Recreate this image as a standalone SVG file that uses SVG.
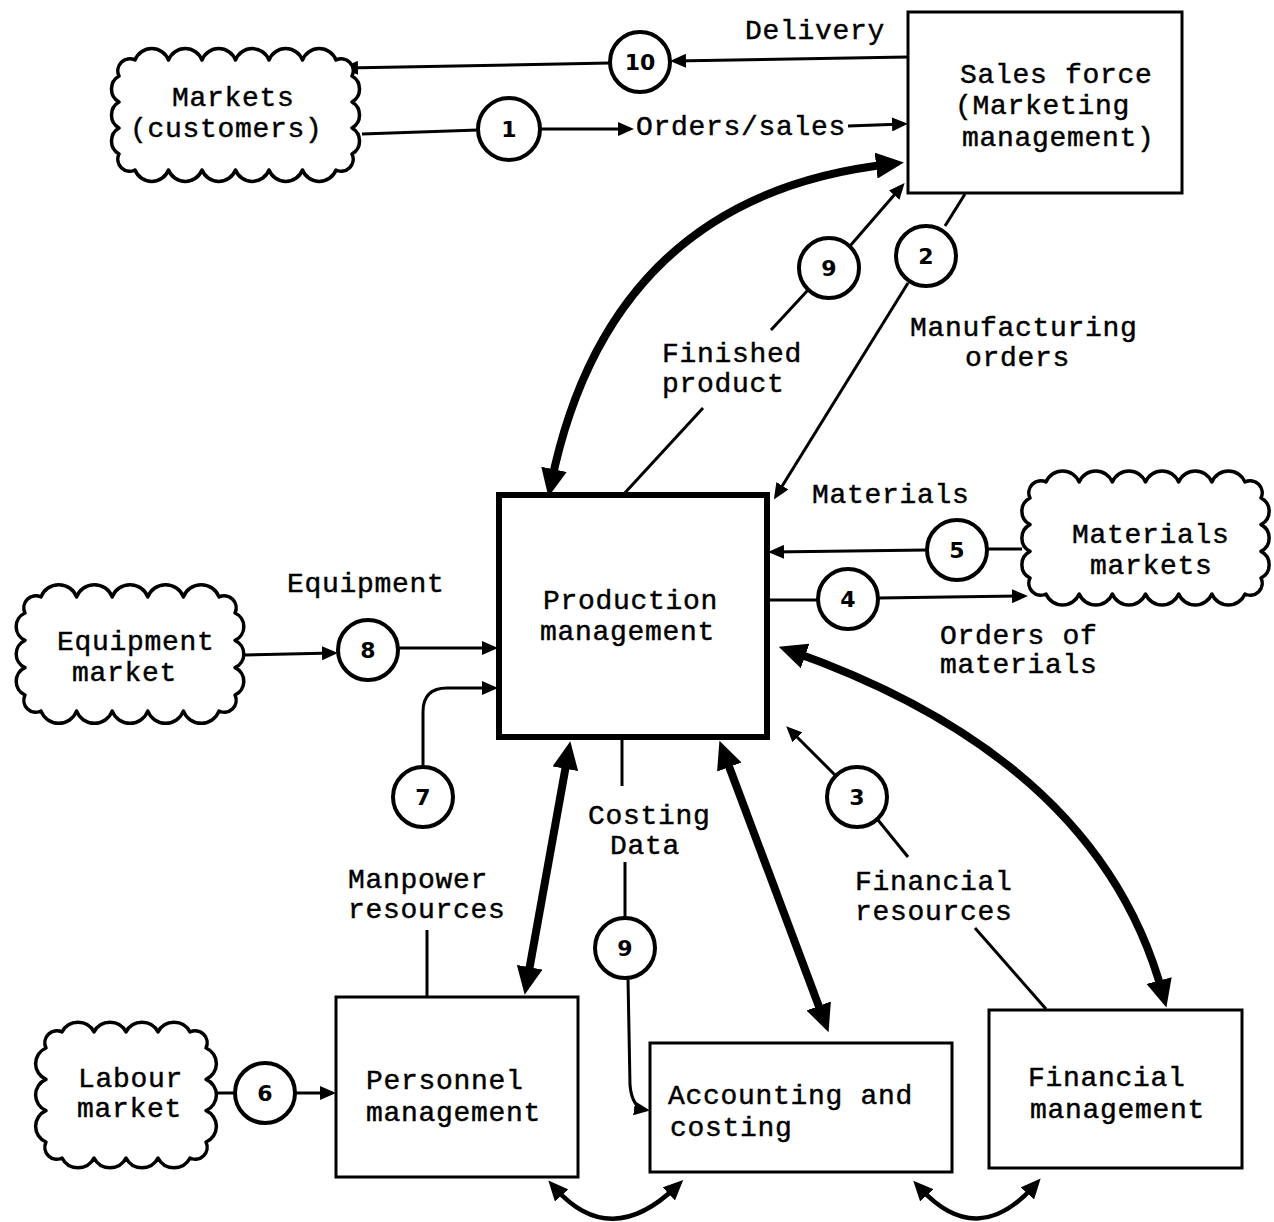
<svg xmlns="http://www.w3.org/2000/svg" width="1274" height="1222" viewBox="0 0 1274 1222">
<style>
.t{font-family:"Liberation Mono","Courier New",monospace;font-size:28px;letter-spacing:0.7px;fill:#000;stroke:#000;stroke-width:0.45}
.n{font-family:"DejaVu Sans","Liberation Sans",sans-serif;font-weight:bold;font-size:22px;text-anchor:middle;fill:#000}
.ln{fill:none;stroke:#000;stroke-width:3}
.th{fill:none;stroke:#000;stroke-width:8}
.md{fill:none;stroke:#000;stroke-width:4.5}
.c{fill:#fff;stroke:#000;stroke-width:4}
.box{fill:none;stroke:#000;stroke-width:3}
.cloud{fill:#fff;stroke:#000;stroke-width:3.5;stroke-linejoin:round}
</style>
<defs>
<marker id="a" markerUnits="userSpaceOnUse" markerWidth="16" markerHeight="14" refX="12" refY="7" orient="auto-start-reverse"><path d="M0,0 L16,7 L0,14 Z" fill="#000"/></marker>
<marker id="big" markerUnits="userSpaceOnUse" markerWidth="28" markerHeight="26" refX="15" refY="13" orient="auto-start-reverse"><path d="M0,0 L28,13 L0,26 Z" fill="#000"/></marker>
<marker id="mid" markerUnits="userSpaceOnUse" markerWidth="20" markerHeight="18" refX="10" refY="9" orient="auto-start-reverse"><path d="M0,0 L20,9 L0,18 Z" fill="#000"/></marker>
</defs>

<g id="connectors">
<!-- 10 delivery -->
<line class="ln" x1="908" y1="57" x2="674" y2="61" marker-end="url(#a)"/>
<line class="ln" x1="610" y1="63" x2="346" y2="68" marker-end="url(#a)"/>
<!-- 1 orders -->
<line class="ln" x1="362" y1="134" x2="478" y2="130"/>
<line class="ln" x1="540" y1="129" x2="630" y2="129" marker-end="url(#a)"/>
<line class="ln" x1="848" y1="126" x2="904" y2="124" marker-end="url(#a)"/>
<!-- thick curve sales-production -->
<path class="th" d="M891,164 Q610,195 551,484" marker-start="url(#big)" marker-end="url(#big)"/>
<!-- 9 finished product -->
<line class="ln" x1="850" y1="246" x2="902" y2="186" marker-end="url(#a)"/>
<line class="ln" x1="808" y1="290" x2="771" y2="330"/>
<line class="ln" x1="703" y1="408" x2="622" y2="496"/>
<!-- 2 manufacturing orders -->
<line class="ln" x1="965" y1="194" x2="945" y2="226"/>
<line class="ln" x1="908" y1="283" x2="776" y2="496" marker-end="url(#a)"/>
<!-- 5 materials -->
<line class="ln" x1="1022" y1="549" x2="986" y2="549"/>
<line class="ln" x1="927" y1="550" x2="772" y2="552" marker-end="url(#a)"/>
<!-- 4 orders of materials -->
<line class="ln" x1="768" y1="600" x2="818" y2="600"/>
<line class="ln" x1="878" y1="598" x2="1024" y2="596" marker-end="url(#a)"/>
<!-- thick curve production-financial -->
<path class="th" d="M791,651 Q1100,760 1163,995" marker-start="url(#big)" marker-end="url(#big)"/>
<!-- 3 financial resources -->
<line class="ln" x1="836" y1="776" x2="789" y2="729" marker-end="url(#a)"/>
<line class="ln" x1="878" y1="820" x2="908" y2="857"/>
<line class="ln" x1="975" y1="928" x2="1046" y2="1009"/>
<!-- 8 equipment -->
<line class="ln" x1="245" y1="655" x2="334" y2="653" marker-end="url(#a)"/>
<line class="ln" x1="398" y1="648" x2="494" y2="648" marker-end="url(#a)"/>
<!-- 7 manpower -->
<path class="ln" d="M423,767 L423,712 Q423,688 447,688 L494,688" marker-end="url(#a)"/>
<line class="ln" x1="427" y1="930" x2="427" y2="996"/>
<!-- thick straight production-personnel -->
<line class="th" x1="568" y1="754" x2="527" y2="982" marker-start="url(#big)" marker-end="url(#big)"/>
<!-- 9 costing data -->
<line class="ln" x1="622" y1="740" x2="622" y2="786"/>
<line class="ln" x1="625" y1="862" x2="625" y2="918"/>
<path class="ln" d="M628,978 L630,1085 Q632,1108 646,1110" marker-end="url(#a)"/>
<!-- thick straight production-accounting -->
<line class="th" x1="724" y1="753" x2="824" y2="1020" marker-start="url(#big)" marker-end="url(#big)"/>
<!-- 6 labour -->
<line class="ln" x1="213" y1="1093" x2="235" y2="1093"/>
<line class="ln" x1="295" y1="1093" x2="332" y2="1093" marker-end="url(#a)"/>
<!-- bottom arcs -->
<path class="md" d="M555,1188 Q610,1250 676,1187" marker-start="url(#mid)" marker-end="url(#mid)"/>
<path class="md" d="M920,1188 Q977,1250 1034,1186" marker-start="url(#mid)" marker-end="url(#mid)"/>
</g>

<g id="labels">
<text class="t" x="745" y="39">Delivery</text>
<text class="t" x="636" y="135">Orders/sales</text>
<text class="t" x="662" y="362">Finished</text>
<text class="t" x="662" y="392">product</text>
<text class="t" x="910" y="336">Manufacturing</text>
<text class="t" x="965" y="366">orders</text>
<text class="t" x="812" y="503">Materials</text>
<text class="t" x="287" y="592">Equipment</text>
<text class="t" x="940" y="644">Orders of</text>
<text class="t" x="940" y="673">materials</text>
<text class="t" x="588" y="824">Costing</text>
<text class="t" x="610" y="854">Data</text>
<text class="t" x="348" y="888">Manpower</text>
<text class="t" x="348" y="918">resources</text>
<text class="t" x="855" y="890">Financial</text>
<text class="t" x="855" y="920">resources</text>
</g>

<g id="markets">
<path class="cloud" d="M135,60 a18,18 0 0 1 33.5,0 a18,18 0 0 1 33.5,0 a18,18 0 0 1 33.5,0 a18,18 0 0 1 33.5,0 a18,18 0 0 1 33.5,0 a18,18 0 0 1 33.5,0 a12,12 0 0 1 16,16 a15,15 0 0 1 0,26 a15,15 0 0 1 0,26 a15,15 0 0 1 0,26 a12,12 0 0 1 -16,16 a18,18 0 0 1 -33.5,0 a18,18 0 0 1 -33.5,0 a18,18 0 0 1 -33.5,0 a18,18 0 0 1 -33.5,0 a18,18 0 0 1 -33.5,0 a18,18 0 0 1 -33.5,0 a12,12 0 0 1 -16,-16 a15,15 0 0 1 0,-26 a15,15 0 0 1 0,-26 a15,15 0 0 1 0,-26 a12,12 0 0 1 16,-16 Z"/>
<text class="t" x="172" y="106">Markets</text>
<text class="t" x="130" y="137">(customers)</text>
</g>

<g id="equipment-market">
<path class="cloud" d="M41,597 a19,19 0 0 1 35.6,0 a19,19 0 0 1 35.6,0 a19,19 0 0 1 35.6,0 a19,19 0 0 1 35.6,0 a19,19 0 0 1 35.6,0 a12,12 0 0 1 16,16 a15,15 0 0 1 0,27.33 a15,15 0 0 1 0,27.33 a15,15 0 0 1 0,27.33 a12,12 0 0 1 -16,16 a19,19 0 0 1 -35.6,0 a19,19 0 0 1 -35.6,0 a19,19 0 0 1 -35.6,0 a19,19 0 0 1 -35.6,0 a19,19 0 0 1 -35.6,0 a12,12 0 0 1 -16,-16 a15,15 0 0 1 0,-27.33 a15,15 0 0 1 0,-27.33 a15,15 0 0 1 0,-27.33 a12,12 0 0 1 16,-16 Z"/>
<text class="t" x="57" y="650">Equipment</text>
<text class="t" x="72" y="681">market</text>
</g>

<g id="materials-markets">
<path class="cloud" d="M1046,482 a18,18 0 0 1 33.17,0 a18,18 0 0 1 33.17,0 a18,18 0 0 1 33.17,0 a18,18 0 0 1 33.17,0 a18,18 0 0 1 33.17,0 a18,18 0 0 1 33.17,0 a12,12 0 0 1 16,16 a15,15 0 0 1 0,26.67 a15,15 0 0 1 0,26.67 a15,15 0 0 1 0,26.67 a12,12 0 0 1 -16,16 a18,18 0 0 1 -33.17,0 a18,18 0 0 1 -33.17,0 a18,18 0 0 1 -33.17,0 a18,18 0 0 1 -33.17,0 a18,18 0 0 1 -33.17,0 a18,18 0 0 1 -33.17,0 a12,12 0 0 1 -16,-16 a15,15 0 0 1 0,-26.67 a15,15 0 0 1 0,-26.67 a15,15 0 0 1 0,-26.67 a12,12 0 0 1 16,-16 Z"/>
<text class="t" x="1072" y="543">Materials</text>
<text class="t" x="1090" y="574">markets</text>
</g>

<g id="labour-market">
<path class="cloud" d="M62,1032 a18,18 0 0 1 32,0 a18,18 0 0 1 32,0 a18,18 0 0 1 32,0 a18,18 0 0 1 32,0 a12,12 0 0 1 16,16 a17,17 0 0 1 0,31.33 a17,17 0 0 1 0,31.33 a17,17 0 0 1 0,31.33 a12,12 0 0 1 -16,16 a18,18 0 0 1 -32,0 a18,18 0 0 1 -32,0 a18,18 0 0 1 -32,0 a18,18 0 0 1 -32,0 a12,12 0 0 1 -16,-16 a17,17 0 0 1 0,-31.33 a17,17 0 0 1 0,-31.33 a17,17 0 0 1 0,-31.33 a12,12 0 0 1 16,-16 Z"/>
<text class="t" x="78" y="1087">Labour</text>
<text class="t" x="77" y="1117">market</text>
</g>

<g id="sales-force">
<rect class="box" x="908" y="12" width="274" height="181"/>
<text class="t" x="960" y="83">Sales force</text>
<text class="t" x="955" y="114">(Marketing</text>
<text class="t" x="962" y="146">management)</text>
</g>

<g id="production-management">
<rect class="box" x="499" y="495" width="268" height="242" style="stroke-width:6"/>
<text class="t" x="543" y="609">Production</text>
<text class="t" x="540" y="640">management</text>
</g>

<g id="personnel-management">
<rect class="box" x="336" y="997" width="242" height="180"/>
<text class="t" x="366" y="1089">Personnel</text>
<text class="t" x="366" y="1121">management</text>
</g>

<g id="accounting-costing">
<rect class="box" x="650" y="1043" width="302" height="129"/>
<text class="t" x="668" y="1104">Accounting and</text>
<text class="t" x="670" y="1136">costing</text>
</g>

<g id="financial-management">
<rect class="box" x="989" y="1010" width="253" height="158"/>
<text class="t" x="1028" y="1086">Financial</text>
<text class="t" x="1030" y="1118">management</text>
</g>

<g id="circle-10"><circle class="c" cx="640" cy="62" r="30"/><text class="n" x="640" y="70">10</text></g>
<g id="circle-1"><circle class="c" cx="509" cy="129" r="31"/><text class="n" x="509" y="137">1</text></g>
<g id="circle-9a"><circle class="c" cx="829" cy="268" r="30"/><text class="n" x="829" y="276">9</text></g>
<g id="circle-2"><circle class="c" cx="926" cy="256" r="30"/><text class="n" x="926" y="264">2</text></g>
<g id="circle-5"><circle class="c" cx="957" cy="550" r="30"/><text class="n" x="957" y="558">5</text></g>
<g id="circle-4"><circle class="c" cx="848" cy="599" r="30"/><text class="n" x="848" y="607">4</text></g>
<g id="circle-8"><circle class="c" cx="368" cy="650" r="30"/><text class="n" x="368" y="658">8</text></g>
<g id="circle-7"><circle class="c" cx="423" cy="797" r="30"/><text class="n" x="423" y="805">7</text></g>
<g id="circle-3"><circle class="c" cx="857" cy="797" r="30"/><text class="n" x="857" y="805">3</text></g>
<g id="circle-9b"><circle class="c" cx="625" cy="948" r="30"/><text class="n" x="625" y="956">9</text></g>
<g id="circle-6"><circle class="c" cx="265" cy="1093" r="30"/><text class="n" x="265" y="1101">6</text></g>
</svg>
